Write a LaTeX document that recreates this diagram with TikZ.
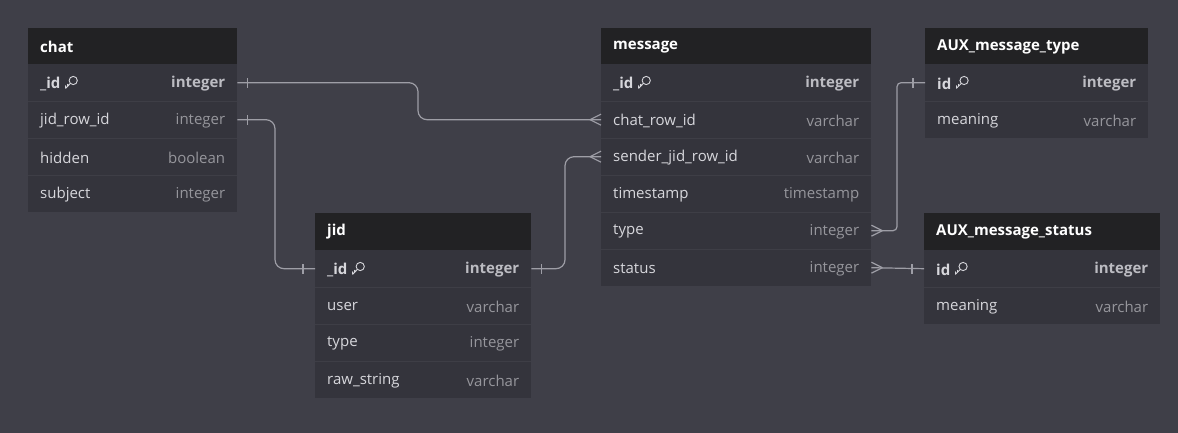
\documentclass[tikz,border=0pt]{standalone}
\usepackage{fontspec}
\setmainfont{Open Sans}
\usetikzlibrary{calc}
\definecolor{bgc}{RGB}{63,63,72}
\definecolor{bodyc}{RGB}{52,52,60}
\definecolor{hdrc}{RGB}{34,34,36}
\definecolor{sepc}{RGB}{62,62,70}
\definecolor{linec}{RGB}{158,158,166}
\definecolor{namec}{RGB}{215,215,220}
\definecolor{typec}{RGB}{150,150,156}
\definecolor{ktypec}{RGB}{188,188,194}
\tikzset{
  hdrbox/.style={rectangle, fill=hdrc, draw=none, minimum height=36.5pt, anchor=north west, inner sep=0pt},
  rowbox/.style={rectangle, fill=bodyc, draw=none, minimum height=37pt, anchor=north west, inner sep=0pt},
  titletxt/.style={anchor=west, inner sep=0pt, text=white, font=\fontsize{15}{17}\selectfont\bfseries},
  fname/.style={anchor=west, inner sep=0pt, text=namec, font=\fontsize{15}{17}\selectfont},
  kname/.style={anchor=west, inner sep=0pt, text=namec, font=\fontsize{15}{17}\selectfont\bfseries},
  ftype/.style={anchor=east, inner sep=0pt, text=typec, font=\fontsize{15}{17}\selectfont},
  ktype/.style={anchor=east, inner sep=0pt, text=ktypec, font=\fontsize{15}{17}\selectfont\bfseries},
  conn/.style={draw=linec, line width=1.2pt},
  sepline/.style={draw=sepc, line width=0.8pt},
  keyicon/.style={draw=namec, line width=0.9pt}
}
% header: id, x, y, width, title
\newcommand{\ehdr}[5]{%
  \node[hdrbox, minimum width=#4] (#1) at (#2,#3) {};
  \node[titletxt] (#1-n) at ([xshift=12pt,yshift=-0.5pt]#1.west) {#5};
}
% row: id, x, y, width, name, type
\newcommand{\erow}[6]{%
  \node[rowbox, minimum width=#4] (#1) at (#2,#3) {};
  \draw[sepline] (#1.north west) -- (#1.north east);
  \node[fname] (#1-n) at ([xshift=12pt,yshift=-0.8pt]#1.west) {#5};
  \node[ftype] (#1-t) at ([xshift=-12pt,yshift=-0.8pt]#1.east) {#6};
}
% key row
\newcommand{\ekrow}[6]{%
  \node[rowbox, minimum width=#4] (#1) at (#2,#3) {};
  \node[kname] (#1-n) at ([xshift=12pt,yshift=-0.8pt]#1.west) {#5};
  \node[ktype] (#1-t) at ([xshift=-12pt,yshift=-0.8pt]#1.east) {#6};
  \coordinate (#1-k) at ([xshift=11pt,yshift=0.8pt]#1-n.east);
  \draw[keyicon] ([xshift=1.6pt,yshift=2.2pt]#1-k) circle (4.1pt);
  \draw[keyicon, line cap=round, line join=round]
    ([xshift=-1.3pt,yshift=-0.8pt]#1-k) -- ([xshift=-6pt,yshift=-5.6pt]#1-k)
    -- ([xshift=-6pt,yshift=-3pt]#1-k)
    ([xshift=-4pt,yshift=-3.6pt]#1-k) -- ([xshift=-4pt,yshift=-1.6pt]#1-k);
}
\newcommand{\barmark}[2]{%
  \draw[conn] ([xshift=#2, yshift=-5pt]#1) -- ([xshift=#2, yshift=5pt]#1);
}
\newcommand{\crowmark}[2]{%
  \draw[conn] ([xshift=#2]#1) -- ([yshift=5.5pt]#1)
              ([xshift=#2]#1) -- ([yshift=-5.5pt]#1);
}
\begin{document}
\begin{tikzpicture}[x=1pt, y=-1pt]
\fill[bgc] (0,0) rectangle (1178,433);
\useasboundingbox (0,0) rectangle (1178,433);

% chat
\ehdr{chat}{28}{28}{209pt}{chat}
\ekrow{chat1}{28}{64}{209pt}{\_id}{integer}
\erow{chat2}{28}{101}{209pt}{jid\_row\_id}{integer}
\erow{chat3}{28}{138}{209pt}{hidden}{boolean}
\erow{chat4}{28}{175}{209pt}{subject}{integer}

% jid
\ehdr{jid}{315}{213}{216pt}{jid}
\ekrow{jid1}{315}{250}{216pt}{\_id}{integer}
\erow{jid2}{315}{287}{216pt}{user}{varchar}
\erow{jid3}{315}{324}{216pt}{type}{integer}
\erow{jid4}{315}{361}{216pt}{raw\_string}{varchar}

% message
\ehdr{msg}{601}{28}{270pt}{message}
\ekrow{msg1}{601}{64}{270pt}{\_id}{integer}
\erow{msg2}{601}{101}{270pt}{chat\_row\_id}{varchar}
\erow{msg3}{601}{138}{270pt}{sender\_jid\_row\_id}{varchar}
\erow{msg4}{601}{175}{270pt}{timestamp}{timestamp}
\erow{msg5}{601}{212}{270pt}{type}{integer}
\erow{msg6}{601}{249}{270pt}{status}{integer}

% AUX_message_type
\ehdr{amt}{925}{28}{223pt}{AUX\_message\_type}
\ekrow{amt1}{925}{64}{223pt}{id}{integer}
\erow{amt2}{925}{101}{223pt}{meaning}{varchar}

% AUX_message_status
\ehdr{ams}{924}{213}{236pt}{AUX\_message\_status}
\ekrow{ams1}{924}{250}{236pt}{id}{integer}
\erow{ams2}{924}{287}{236pt}{meaning}{varchar}

% bend coordinates
\coordinate (b1) at (418,0);
\coordinate (b2) at (275,0);
\coordinate (b3) at (565,0);
\coordinate (b4) at (897,0);

% connectors
\draw[conn, rounded corners=9pt] (chat1.east) -| (b1 |- msg2.west) -- (msg2.west);
\draw[conn, rounded corners=9pt] (chat2.east) -| (b2 |- jid1.west) -- (jid1.west);
\draw[conn, rounded corners=9pt] (jid1.east) -| (b3 |- msg3.west) -- (msg3.west);
\draw[conn, rounded corners=4pt] (msg5.east) -| (b4 |- amt1.west) -- (amt1.west);
\draw[conn] (msg6.east) -- (ams1.west);

% end marks
\barmark{chat1.east}{10pt}
\barmark{chat2.east}{10pt}
\barmark{jid1.west}{-12pt}
\barmark{jid1.east}{10pt}
\barmark{amt1.west}{-12pt}
\barmark{ams1.west}{-12pt}
\crowmark{msg2.west}{-11pt}
\crowmark{msg3.west}{-11pt}
\crowmark{msg5.east}{11pt}
\crowmark{msg6.east}{11pt}
\end{tikzpicture}
\end{document}
